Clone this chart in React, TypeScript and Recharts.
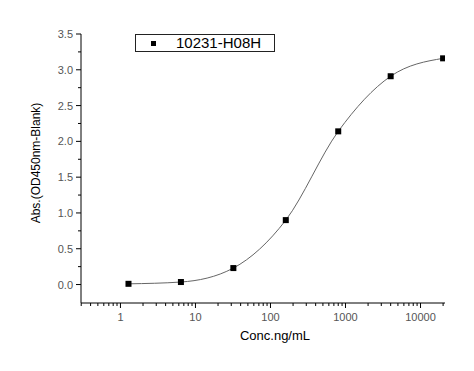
import React from 'react'
import { LineChart, Line, XAxis, YAxis, Legend, Label } from 'recharts'

// 5-fold dilution series, Conc. ng/mL vs Abs.
const concentrations = [1.28, 6.4, 32, 160, 800, 4000, 20000]
const absorbance = [0.01, 0.035, 0.23, 0.9, 2.14, 2.91, 3.16]
const seriesName = '10231-H08H'

const xMajorTicks = [1, 10, 100, 1000, 10000]
const xMinorTicks = [0.3, 0.4, 0.5, 0.6, 0.7, 0.8, 0.9, 2, 3, 4, 5, 6, 7, 8, 9, 20, 30, 40, 50, 60, 70, 80, 90,
  200, 300, 400, 500, 600, 700, 800, 900, 2000, 3000, 4000, 5000, 6000, 7000, 8000, 9000, 20000]
const yMajorTicks = [0, 0.5, 1, 1.5, 2, 2.5, 3, 3.5]
const yMinorTicks = [0.25, 0.75, 1.25, 1.75, 2.25, 2.75, 3.25]

const data = concentrations.map((c, i) => ({ conc: c, abs: absorbance[i] }))

const font = '"Liberation Sans", Arial, sans-serif'

const XTick = (props: any) => {
  const { x, y, payload } = props
  const major = xMajorTicks.includes(payload.value)
  return (
    <g>
      <line x1={x} y1={y} x2={x} y2={y + (major ? 5 : 3)} stroke="#000" strokeWidth={1} />
      {major && (
        <text x={x} y={y + 18} textAnchor="middle" fontSize={11} fill="#555" fontFamily={font}>
          {payload.value}
        </text>
      )}
    </g>
  )
}

const YTick = (props: any) => {
  const { x, y, payload } = props
  const major = yMajorTicks.includes(payload.value)
  return (
    <g>
      <line x1={x} y1={y} x2={x - (major ? 5 : 3)} y2={y} stroke="#000" strokeWidth={1} />
      {major && (
        <text x={x - 8} y={y + 4} textAnchor="end" fontSize={11} fill="#555" fontFamily={font}>
          {payload.value.toFixed(1)}
        </text>
      )}
    </g>
  )
}

const SquareDot = (props: any) => {
  const { cx, cy, index } = props
  return <rect key={index} x={cx - 3} y={cy - 3} width={6} height={6} fill="#000" />
}

const LegendBox = () => (
  <div
    style={{
      width: 138,
      height: 16,
      border: '1px solid #222',
      position: 'relative',
      fontFamily: font,
      background: '#fff'
    }}
  >
    <div style={{ position: 'absolute', left: 15, top: 6, width: 5, height: 5, background: '#000' }} />
    <div style={{ position: 'absolute', left: 40, top: -1, fontSize: 15, lineHeight: '18px', color: '#000' }}>
      {seriesName}
    </div>
  </div>
)

export default function App() {
  return (
    <div style={{ position: 'absolute', left: 0, top: 0, width: 474, height: 371, background: '#fff', fontFamily: font }}>
      <LineChart width={474} height={371} data={data} margin={{ top: 34, right: 29, bottom: 38, left: 31 }}>
        <XAxis
          dataKey="conc"
          type="number"
          scale="log"
          domain={[0.298, 21200]}
          allowDataOverflow
          ticks={[...xMajorTicks, ...xMinorTicks].sort((a, b) => a - b)}
          interval={0}
          height={30}
          tickSize={0}
          tickMargin={0}
          tickLine={false}
          tick={<XTick />}
          stroke="#000"
        >
          <Label
            content={() => (
              <text x={275} y={340} textAnchor="middle" fontSize={13} fill="#000" fontFamily={font}>
                Conc.ng/mL
              </text>
            )}
          />
        </XAxis>
        <YAxis
          type="number"
          domain={[-0.258, 3.5]}
          allowDataOverflow
          ticks={[...yMajorTicks, ...yMinorTicks].sort((a, b) => a - b)}
          interval={0}
          width={50}
          tickSize={0}
          tickMargin={0}
          tickLine={false}
          tick={<YTick />}
          stroke="#000"
        >
          <Label
            content={() => (
              <text x={40} y={163} transform="rotate(-90, 40, 163)" textAnchor="middle" fontSize={12} fill="#000" fontFamily={font}>
                Abs.(OD450nm-Blank)
              </text>
            )}
          />
        </YAxis>
        <Legend
          layout="vertical"
          align="center"
          verticalAlign="middle"
          content={<LegendBox />}
          wrapperStyle={{ left: 135, top: 34, width: 140, height: 18 }}
        />
        <Line
          type="monotone"
          dataKey="abs"
          name={seriesName}
          stroke="#666"
          strokeWidth={1}
          dot={<SquareDot />}
          activeDot={false}
          isAnimationActive={false}
        />
      </LineChart>
    </div>
  )
}
